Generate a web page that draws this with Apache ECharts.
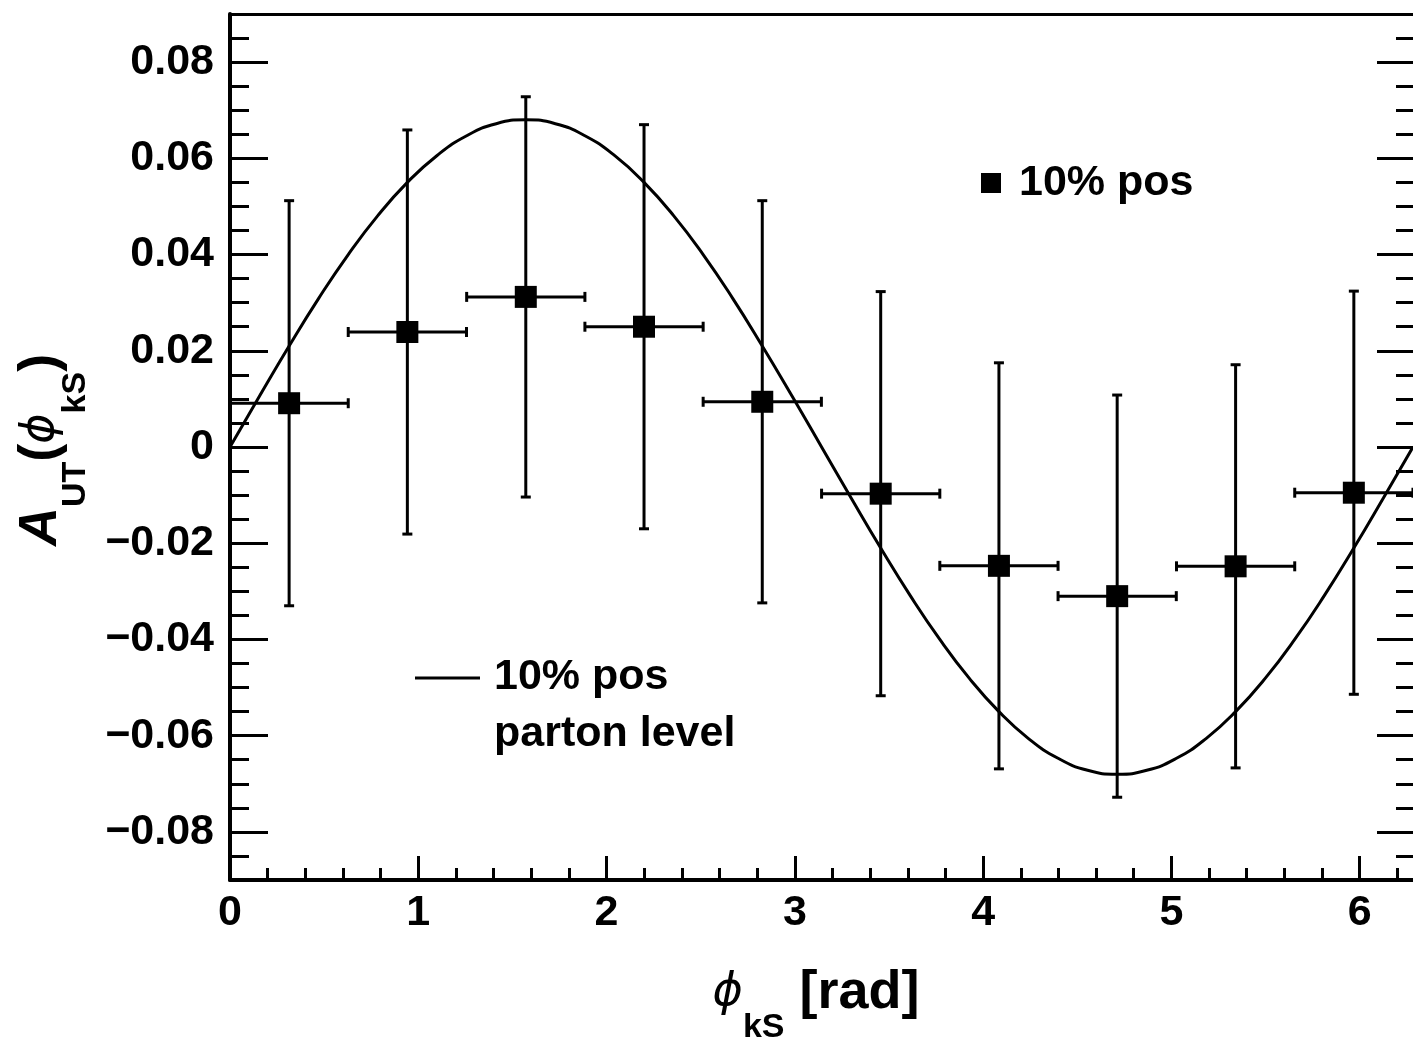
<!DOCTYPE html>
<html>
<head>
<meta charset="utf-8">
<script src="https://cdn.jsdelivr.net/npm/echarts@6/dist/echarts.min.js"></script>
<style>
html,body{margin:0;padding:0;background:#fff;}
#chart{width:1413px;height:1038px;}
</style>
</head>
<body>
<div id="chart"></div>
<script>
// ---- data ----
const phiCenters   = [0.314, 0.942, 1.571, 2.199, 2.827, 3.456, 4.084, 4.712, 5.341, 5.969];
const phiHalfWidth = [0.314, 0.314, 0.314, 0.314, 0.314, 0.314, 0.314, 0.314, 0.314, 0.314];
const asymValues   = [0.0091, 0.0239, 0.0312, 0.0250, 0.0094, -0.0097, -0.0247, -0.0310, -0.0248, -0.0095];
const asymErrors   = [0.0421, 0.0420, 0.0416, 0.0420, 0.0418, 0.0420, 0.0422, 0.0418, 0.0419, 0.0419];

// parton-level curve
const curvePhi = [0.000,0.157,0.314,0.471,0.628,0.785,0.942,1.100,1.257,1.414,1.571,
                  1.728,1.885,2.042,2.199,2.356,2.513,2.670,2.827,2.985,3.142,
                  3.299,3.456,3.613,3.770,3.927,4.084,4.241,4.398,4.555,4.712,
                  4.869,5.027,5.184,5.341,5.498,5.655,5.812,5.969,6.126,6.283];
const curveAsym = [0.0000,0.0106,0.0210,0.0309,0.0400,0.0481,0.0550,0.0606,0.0647,0.0672,0.0680,
                   0.0672,0.0647,0.0606,0.0550,0.0481,0.0400,0.0309,0.0210,0.0106,0.0000,
                   -0.0106,-0.0210,-0.0309,-0.0400,-0.0481,-0.0550,-0.0606,-0.0647,-0.0672,-0.0680,
                   -0.0672,-0.0647,-0.0606,-0.0550,-0.0481,-0.0400,-0.0309,-0.0210,-0.0106,0.0000];

// axis ticks and labels
const xMajorTicks = [0, 1, 2, 3, 4, 5, 6];
const xTickLabels = ['0', '1', '2', '3', '4', '5', '6'];
const xMinorTicks = [0.2,0.4,0.6,0.8,1.2,1.4,1.6,1.8,2.2,2.4,2.6,2.8,3.2,3.4,3.6,3.8,4.2,4.4,4.6,4.8,5.2,5.4,5.6,5.8,6.2];
const yMajorTicks = [-0.08, -0.06, -0.04, -0.02, 0, 0.02, 0.04, 0.06, 0.08];
const yTickLabels = ['\u22120.08', '\u22120.06', '\u22120.04', '\u22120.02', '0', '0.02', '0.04', '0.06', '0.08'];
const yMinorTicks = [-0.085,-0.075,-0.07,-0.065,-0.055,-0.05,-0.045,-0.035,-0.03,-0.025,-0.015,-0.01,-0.005,
                     0.005,0.01,0.015,0.025,0.03,0.035,0.045,0.05,0.055,0.065,0.07,0.075,0.085];

const X_MIN = 0, X_MAX = 6.2832, Y_MIN = -0.09, Y_MAX = 0.09;
const FONT = "'Liberation Sans', Arial, Helvetica, sans-serif";
const PHI_FONT = "'DejaVu Sans', 'Liberation Serif', serif";

const pointData = phiCenters.map((x, i) => [x, asymValues[i], phiHalfWidth[i], asymErrors[i]]);
const curveData = curvePhi.map((x, i) => [x, curveAsym[i]]);

const chart = echarts.init(document.getElementById('chart'), null, {renderer: 'canvas'});

function lbl(v, ticks, labels) {
  const i = ticks.findIndex(t => Math.abs(t - v) < 1e-9);
  return i >= 0 ? labels[i] : '';
}

const baseX = {type: 'value', min: X_MIN, max: X_MAX, gridIndex: 0, splitLine: {show: false}};
const baseY = {type: 'value', min: Y_MIN, max: Y_MAX, gridIndex: 0, splitLine: {show: false}};
const black = '#000';

const titleRich = {
  m: {fontFamily: FONT, fontSize: 54, fontWeight: 'bold', fill: black, lineHeight: 104},
  a: {fontFamily: FONT, fontSize: 54, fontStyle: 'italic', fontWeight: 'bold', fill: black, lineHeight: 104},
  p: {fontFamily: PHI_FONT, fontSize: 46, fontStyle: 'italic', fontWeight: 'normal', fill: black, lineHeight: 104},
  s: {fontFamily: FONT, fontSize: 34, fontWeight: 'bold', fill: black, lineHeight: 18, verticalAlign: 'bottom'}
};

const option = {
  animation: false,
  backgroundColor: '#fff',
  grid: {left: 230, top: 14, width: 1185, height: 866, containLabel: false},
  xAxis: [
    Object.assign({}, baseX, {
      position: 'bottom',
      axisLine: {show: true, onZero: false, lineStyle: {color: black, width: 4}},
      axisTick: {show: true, inside: true, length: 24, lineStyle: {color: black, width: 3}, customValues: xMajorTicks},
      axisLabel: {show: true, customValues: xMajorTicks, margin: 12, color: black, fontSize: 43, fontWeight: 'bold', fontFamily: FONT,
                  formatter: v => lbl(v, xMajorTicks, xTickLabels)}
    }),
    Object.assign({}, baseX, {
      position: 'bottom',
      axisLine: {show: false, onZero: false},
      axisTick: {show: true, inside: true, length: 12, lineStyle: {color: black, width: 3}, customValues: xMinorTicks},
      axisLabel: {show: false}
    }),
    Object.assign({}, baseX, {
      position: 'top',
      axisLine: {show: true, onZero: false, lineStyle: {color: black, width: 3}},
      axisTick: {show: false},
      axisLabel: {show: false}
    })
  ],
  yAxis: [
    Object.assign({}, baseY, {
      position: 'left',
      axisLine: {show: true, onZero: false, lineStyle: {color: black, width: 4}},
      axisTick: {show: true, inside: true, length: 38, lineStyle: {color: black, width: 3}, customValues: yMajorTicks},
      axisLabel: {show: true, customValues: yMajorTicks, margin: 16, color: black, fontSize: 43, fontWeight: 'bold', fontFamily: FONT,
                  formatter: v => lbl(v, yMajorTicks, yTickLabels)}
    }),
    Object.assign({}, baseY, {
      position: 'left',
      axisLine: {show: false, onZero: false},
      axisTick: {show: true, inside: true, length: 19, lineStyle: {color: black, width: 3}, customValues: yMinorTicks},
      axisLabel: {show: false}
    }),
    Object.assign({}, baseY, {
      position: 'right',
      axisLine: {show: false, onZero: false},
      axisTick: {show: true, inside: true, length: 36, lineStyle: {color: black, width: 3}, customValues: yMajorTicks},
      axisLabel: {show: false}
    }),
    Object.assign({}, baseY, {
      position: 'right',
      axisLine: {show: false, onZero: false},
      axisTick: {show: true, inside: true, length: 17, lineStyle: {color: black, width: 3}, customValues: yMinorTicks},
      axisLabel: {show: false}
    })
  ],
  series: [
    {
      type: 'line',
      name: 'parton',
      data: curveData,
      smooth: true,
      showSymbol: false,
      symbol: 'none',
      clip: true,
      lineStyle: {color: black, width: 3},
      z: 3
    },
    {
      type: 'custom',
      name: 'errors',
      data: pointData,
      z: 4,
      renderItem: function (params, api) {
        const x = api.value(0), y = api.value(1), dx = api.value(2), dy = api.value(3);
        const c = api.coord([x, y]);
        const l = api.coord([x - dx, y]);
        const r = api.coord([x + dx, y]);
        const t = api.coord([x, y + dy]);
        const b = api.coord([x, y - dy]);
        const cap = 5;
        const st = {stroke: black, lineWidth: 3};
        return {
          type: 'group',
          children: [
            {type: 'line', shape: {x1: c[0], y1: t[1], x2: c[0], y2: b[1]}, style: st},
            {type: 'line', shape: {x1: c[0] - cap, y1: t[1], x2: c[0] + cap, y2: t[1]}, style: st},
            {type: 'line', shape: {x1: c[0] - cap, y1: b[1], x2: c[0] + cap, y2: b[1]}, style: st},
            {type: 'line', shape: {x1: l[0], y1: c[1], x2: r[0], y2: c[1]}, style: st},
            {type: 'line', shape: {x1: l[0], y1: c[1] - cap, x2: l[0], y2: c[1] + cap}, style: st},
            {type: 'line', shape: {x1: r[0], y1: c[1] - cap, x2: r[0], y2: c[1] + cap}, style: st}
          ]
        };
      }
    },
    {
      type: 'scatter',
      name: 'points',
      data: pointData.map(p => [p[0], p[1]]),
      symbol: 'rect',
      symbolSize: 22,
      itemStyle: {color: black, opacity: 1},
      z: 5
    }
  ],
  graphic: [
    // legend: marker
    {type: 'rect', shape: {x: 981, y: 173, width: 20, height: 20}, style: {fill: black}, z: 10},
    {type: 'text', x: 1019, y: 183, style: {text: '10% pos', font: "bold 43px " + FONT, fill: black, verticalAlign: 'middle', align: 'left'}, z: 10},
    // legend: curve
    {type: 'line', shape: {x1: 415, y1: 678, x2: 480, y2: 678}, style: {stroke: black, lineWidth: 3}, z: 10},
    {type: 'text', x: 494, y: 677, style: {text: '10% pos', font: "bold 43px " + FONT, fill: black, verticalAlign: 'middle', align: 'left'}, z: 10},
    {type: 'text', x: 494, y: 734, style: {text: 'parton level', font: "bold 43px " + FONT, fill: black, verticalAlign: 'middle', align: 'left'}, z: 10},
    // x axis title
    {type: 'text', x: 816, y: 993, z: 10,
     style: {text: '{p|\u03D5}{s|kS}{m| [rad]}', align: 'center', verticalAlign: 'middle', rich: titleRich}},
    // y axis title
    {type: 'text', x: 41, y: 450, rotation: Math.PI / 2, z: 10,
     style: {text: '{a|A}{s|UT}{m|(}{p|\u03D5}{s|kS}{m|)}', align: 'center', verticalAlign: 'middle', rich: titleRich}}
  ]
};

chart.setOption(option);
</script>
</body>
</html>
